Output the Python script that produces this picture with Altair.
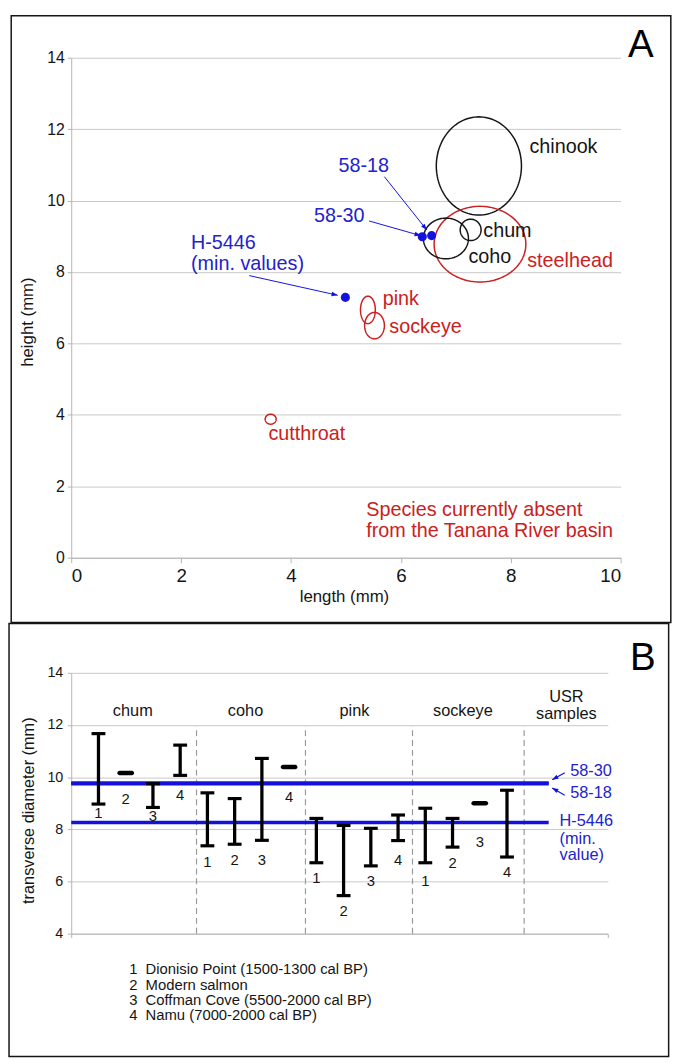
import math
import altair as alt
import numpy as np
import pandas as pd

FONT = "Liberation Sans, Arial, Helvetica, sans-serif"
BLACK = "#151515"
RED = "#cc2020"
BLUE = "#1212dc"
BLUE_TXT = "#2222cc"
GRID = "#c8c8c8"
AXIS = "#b4b4b4"
ARROW = "M0,0L0.6,1.6L-0.6,1.6Z"

# ---------------- Panel A data ----------------
sp_names = ["chinook", "steelhead", "coho", "chum", "pink", "sockeye", "cutthroat"]
sp_cx = [7.42, 7.44, 6.82, 7.27, 5.40, 5.52, 3.63]
sp_cy = [10.97, 8.78, 8.94, 9.18, 6.94, 6.50, 3.88]
sp_w = [1.55, 1.67, 0.82, 0.38, 0.27, 0.36, 0.20]
sp_h = [2.75, 2.12, 1.14, 0.60, 0.77, 0.74, 0.28]
sp_absent = [False, True, False, False, True, True, True]
sp_lbl_x = [8.34, 8.30, 7.23, 7.50, 5.67, 5.79, 3.59]
sp_lbl_y = [11.49, 8.32, 8.43, 9.16, 7.23, 6.47, 3.46]

sample_names = ["H-5446", "58-30", "58-18"]
sample_len = [4.99, 6.39, 6.56]
sample_hgt = [7.29, 8.99, 9.02]

blue_lbl_text = ["58-18", "58-30", "H-5446", "(min. values)"]
blue_lbl_x = [4.865, 4.42, 2.18, 2.18]
blue_lbl_y = [10.97, 9.57, 8.82, 8.22]

arrA_x0 = [5.70, 5.42, 3.24]
arrA_y0 = [10.67, 9.43, 7.90]
arrA_x1 = [6.47, 6.36, 4.85]
arrA_y1 = [9.18, 9.02, 7.35]

note_text = ["Species currently absent", "from the Tanana River basin"]
note_x = [5.37, 5.37]
note_y = [1.33, 0.74]

# ---------------- Panel B data ----------------
b_groups = ["chum", "coho", "pink", "sockeye"]
b_sites = [1, 2, 3, 4]
b_low = [8.97, 10.16, 8.84, 10.07,
         7.37, 7.43, 7.58, 10.39,
         6.72, 5.46, 6.60, 7.57,
         6.72, 7.32, 9.00, 6.94]
b_high = [11.67, 10.16, 9.75, 11.23,
          9.40, 9.18, 10.72, 10.39,
          8.42, 8.15, 8.04, 8.55,
          8.81, 8.42, 9.00, 9.50]
b_label_y = [8.64, 9.18, 8.51, 9.32,
             6.75, 6.81, 6.81, 9.25,
             6.12, 4.87, 6.03, 6.81,
             6.03, 6.69, 7.52, 6.35]

cat_text = ["chum", "coho", "pink", "sockeye", "USR", "samples"]
cat_x = [2.26, 6.40, 10.40, 14.38, 18.18, 18.18]
cat_y = [12.54, 12.54, 12.54, 12.54, 13.07, 12.43]
separators = [4.60, 8.60, 12.53, 16.63]
sep_top = 11.96

usr_names = ["58-30", "58-18", "H-5446"]
usr_values = [9.775, 9.745, 8.26]
usr_line_end = 17.53

usr_lbl_text = ["58-30", "58-18", "H-5446", "(min.", "value)"]
usr_lbl_x = [18.32, 18.32, 17.93, 17.93, 17.93]
usr_lbl_y = [10.23, 9.40, 8.30, 7.63, 7.01]
arrB_x0 = [18.12, 18.12]
arrB_y0 = [10.17, 9.31]
arrB_x1 = [17.66, 17.66]
arrB_y1 = [9.90, 9.59]

legend_num = ["1", "2", "3", "4"]
legend_text = ["Dionisio Point (1500-1300 cal BP)", "Modern salmon",
               "Coffman Cove (5500-2000 cal BP)", "Namu (7000-2000 cal BP)"]
legend_y = [2.63, 2.04, 1.46, 0.89]

# ---------------- layout ----------------
WA, HA = 556, 506
WB, HB = 543, 264
XA_DOM, YA_DOM = [0, 10], [0, 14]
XB_DOM, YB_DOM = [0, 19.7], [4, 14]


def head_angles(x0, y0, x1, y1, pxu, pyu):
    out = []
    for a, b, c, d in zip(x0, y0, x1, y1):
        out.append(math.degrees(math.atan2((c - a) * pxu, (d - b) * pyu)) % 360)
    return out


# ---------- Panel A ----------
t = np.linspace(0, 2 * np.pi, 121)
rows = []
for n, cx, cy, w, h, ab in zip(sp_names, sp_cx, sp_cy, sp_w, sp_h, sp_absent):
    for i, tt in enumerate(t):
        rows.append({"name": n, "i": i, "x": cx + w / 2 * math.cos(tt),
                     "y": cy + h / 2 * math.sin(tt),
                     "status": "absent" if ab else "present"})
ell_df = pd.DataFrame(rows)
sp_df = pd.DataFrame({"name": sp_names, "x": sp_lbl_x, "y": sp_lbl_y,
                      "status": ["absent" if a else "present" for a in sp_absent]})
samp_df = pd.DataFrame({"name": sample_names, "x": sample_len, "y": sample_hgt})
blbl_df = pd.DataFrame({"t": blue_lbl_text, "x": blue_lbl_x, "y": blue_lbl_y})
arrA_df = pd.DataFrame({"x": arrA_x0, "y": arrA_y0, "x1": arrA_x1, "y1": arrA_y1,
                        "ang": head_angles(arrA_x0, arrA_y0, arrA_x1, arrA_y1,
                                           WA / 10, HA / 14)})
note_df = pd.DataFrame({"t": note_text, "x": note_x, "y": note_y})
letA_df = pd.DataFrame({"t": ["A"], "x": [10.37], "y": [14.03]})
one = pd.DataFrame({"k": [0]})

scXA = alt.Scale(domain=XA_DOM, nice=False, zero=False)
scYA = alt.Scale(domain=YA_DOM, nice=False, zero=False)
axXA = alt.Axis(values=[0, 2, 4, 6, 8, 10], grid=False, title="length (mm)",
                labelFontSize=19, titleFontSize=17, tickSize=5, labelPadding=4,
                titleX=276, titleY=44, titleBaseline="alphabetic", titleAlign="center")
axYA = alt.Axis(values=list(range(0, 15, 2)), grid=True, gridColor=GRID,
                title="height (mm)", labelFontSize=16, titleFontSize=17,
                tickSize=4, labelPadding=3, titleX=-35, titleY=267,
                titleAngle=270, titleBaseline="bottom", titleAlign="center")


def XA(f):
    return alt.X(f, type="quantitative", scale=scXA, axis=axXA)


def YA(f):
    return alt.Y(f, type="quantitative", scale=scYA, axis=axYA)


colA = alt.Color("status:N", scale=alt.Scale(domain=["present", "absent"],
                                              range=[BLACK, RED]), legend=None)

frameA = alt.Chart(one).mark_rect(fillOpacity=0, stroke=BLACK, strokeWidth=1.5).encode(
    x=alt.value(-60.75), x2=alt.value(606.8), y=alt.value(-42.45), y2=alt.value(571.5))
ellipses = alt.Chart(ell_df).mark_line(strokeWidth=1.5).encode(
    x=XA("x"), y=YA("y"), detail="name:N", order="i:Q", color=colA)
sp_labels = alt.Chart(sp_df).mark_text(align="left", baseline="middle", fontSize=20).encode(
    x=XA("x"), y=YA("y"), text="name:N", color=colA)
points = alt.Chart(samp_df).mark_circle(size=85, color=BLUE, opacity=1).encode(
    x=XA("x"), y=YA("y"))
arr_lines = alt.Chart(arrA_df).mark_rule(color=BLUE, strokeWidth=1).encode(
    x=XA("x"), y=YA("y"), x2="x1:Q", y2="y1:Q")
arr_heads = alt.Chart(arrA_df).mark_point(shape=ARROW, filled=True, size=60,
                                          color=BLUE, opacity=1).encode(
    x=XA("x1"), y=YA("y1"), angle=alt.Angle("ang:Q", scale=None))
blue_labels = alt.Chart(blbl_df).mark_text(align="left", baseline="middle",
                                           fontSize=20, color=BLUE_TXT).encode(
    x=XA("x"), y=YA("y"), text="t:N")
note = alt.Chart(note_df).mark_text(align="left", baseline="middle",
                                    fontSize=20, color=RED).encode(
    x=XA("x"), y=YA("y"), text="t:N")
letterA = alt.Chart(letA_df).mark_text(align="center", baseline="alphabetic",
                                       fontSize=39, color="#000000").encode(
    x=XA("x"), y=YA("y"), text="t:N")

panelA = alt.layer(frameA, ellipses, sp_labels, arr_lines, arr_heads, points,
                   blue_labels, note, letterA).properties(width=WA, height=HA)

# ---------- Panel B ----------
bars = []
for gi, g in enumerate(b_groups):
    for s in b_sites:
        k = gi * 4 + (s - 1)
        bars.append({"group": g, "site": str(s), "slot": gi * 4 + s,
                     "low": b_low[k], "high": b_high[k], "ly": b_label_y[k]})
bar_df = pd.DataFrame(bars)
rng_df = bar_df[bar_df["low"] != bar_df["high"]]
dash_df = bar_df[bar_df["low"] == bar_df["high"]]
cap_df = pd.concat([rng_df.assign(v=rng_df["low"]), rng_df.assign(v=rng_df["high"])])

cat_df = pd.DataFrame({"t": cat_text, "x": cat_x, "y": cat_y})
sep_df = pd.DataFrame({"x": separators, "y": [YB_DOM[0]] * len(separators),
                       "y2": [sep_top] * len(separators)})
usr_df = pd.DataFrame({"name": usr_names, "v": usr_values,
                       "x0": [XB_DOM[0]] * 3, "x1": [usr_line_end] * 3})
ulbl_df = pd.DataFrame({"t": usr_lbl_text, "x": usr_lbl_x, "y": usr_lbl_y})
arrB_df = pd.DataFrame({"x": arrB_x0, "y": arrB_y0, "x1": arrB_x1, "y1": arrB_y1,
                        "ang": head_angles(arrB_x0, arrB_y0, arrB_x1, arrB_y1,
                                           WB / XB_DOM[1], HB / 10)})
leg_df = pd.DataFrame({"n": legend_num, "t": legend_text, "y": legend_y,
                       "xn": [2.13] * 4, "xt": [2.73] * 4})
letB_df = pd.DataFrame({"t": ["B"], "x": [20.99], "y": [14.1]})

scXB = alt.Scale(domain=XB_DOM, nice=False, zero=False)
scYB = alt.Scale(domain=YB_DOM, nice=False, zero=False)
axXB = alt.Axis(values=XB_DOM, labels=False, grid=False, title="", tickSize=4)
axYB = alt.Axis(values=list(range(4, 15, 2)), grid=True, gridColor=GRID,
                title="transverse diameter (mm)", labelFontSize=14.5,
                titleFontSize=16.5, tickSize=4, labelPadding=4.5, titleX=-34.7,
                titleY=139, titleAngle=270, titleBaseline="bottom", titleAlign="center")


def XB(f):
    return alt.X(f, type="quantitative", scale=scXB, axis=axXB)


def YB(f):
    return alt.Y(f, type="quantitative", scale=scYB, axis=axYB)


frameB = alt.Chart(one).mark_rect(fillOpacity=0, stroke=BLACK, strokeWidth=1.5).encode(
    x=alt.value(-62.95), x2=alt.value(604.6), y=alt.value(-50), y2=alt.value(388.3))
seps = alt.Chart(sep_df).mark_rule(color="#9a9a9a", strokeWidth=1.2,
                                   strokeDash=[6, 4]).encode(
    x=XB("x"), y=YB("y"), y2="y2:Q")
usr_lines = alt.Chart(usr_df).mark_rule(color=BLUE, strokeWidth=3.5).encode(
    x=XB("x0"), x2="x1:Q", y=YB("v"))
bar_rules = alt.Chart(rng_df).mark_rule(color="#000000", strokeWidth=3.3).encode(
    x=XB("slot"), y=YB("low"), y2="high:Q")
bar_caps = alt.Chart(cap_df).mark_tick(color="#000000", orient="horizontal",
                                       size=14, thickness=3.2, opacity=1).encode(
    x=XB("slot"), y=YB("v"))
bar_dash = alt.Chart(dash_df).mark_tick(color="#000000", orient="horizontal",
                                        size=17, thickness=4.6, cornerRadius=2.3,
                                        opacity=1).encode(
    x=XB("slot"), y=YB("low"))
bar_nums = alt.Chart(bar_df).mark_text(fontSize=15, align="center", baseline="middle",
                                       color=BLACK).encode(
    x=XB("slot"), y=YB("ly"), text="site:N")
cats = alt.Chart(cat_df).mark_text(fontSize=16.5, align="center", baseline="middle",
                                   color=BLACK).encode(
    x=XB("x"), y=YB("y"), text="t:N")
ulbls = alt.Chart(ulbl_df).mark_text(fontSize=16.5, align="left", baseline="middle",
                                     color=BLUE_TXT).encode(
    x=XB("x"), y=YB("y"), text="t:N")
arrB_lines = alt.Chart(arrB_df).mark_rule(color=BLUE, strokeWidth=1.2).encode(
    x=XB("x"), y=YB("y"), x2="x1:Q", y2="y1:Q")
arrB_heads = alt.Chart(arrB_df).mark_point(shape=ARROW, filled=True, size=60,
                                           color=BLUE, opacity=1).encode(
    x=XB("x1"), y=YB("y1"), angle=alt.Angle("ang:Q", scale=None))
leg_nums = alt.Chart(leg_df).mark_text(fontSize=15, align="left", baseline="middle",
                                       color=BLACK).encode(
    x=XB("xn"), y=YB("y"), text="n:N")
leg_txt = alt.Chart(leg_df).mark_text(fontSize=15, align="left", baseline="middle",
                                      color=BLACK).encode(
    x=XB("xt"), y=YB("y"), text="t:N")
letterB = alt.Chart(letB_df).mark_text(align="center", baseline="alphabetic",
                                       fontSize=39, color="#000000").encode(
    x=XB("x"), y=YB("y"), text="t:N")

panelB = alt.layer(frameB, seps, usr_lines, bar_rules, bar_caps, bar_dash, bar_nums,
                   cats, ulbls, arrB_lines, arrB_heads, leg_nums, leg_txt,
                   letterB).properties(width=WB, height=HB)

chart = alt.vconcat(panelA, panelB, spacing=-1.5).resolve_scale(
    x="independent", y="independent", color="independent"
).properties(padding=0, background="white").configure(font=FONT).configure_view(
    strokeWidth=0
).configure_axis(
    domainColor=AXIS, tickColor=AXIS, labelColor=BLACK, titleColor=BLACK,
    labelFont=FONT, titleFont=FONT, titleFontWeight="normal"
)

chart.save("out.html", embed_options={"renderer": "svg", "actions": False})
